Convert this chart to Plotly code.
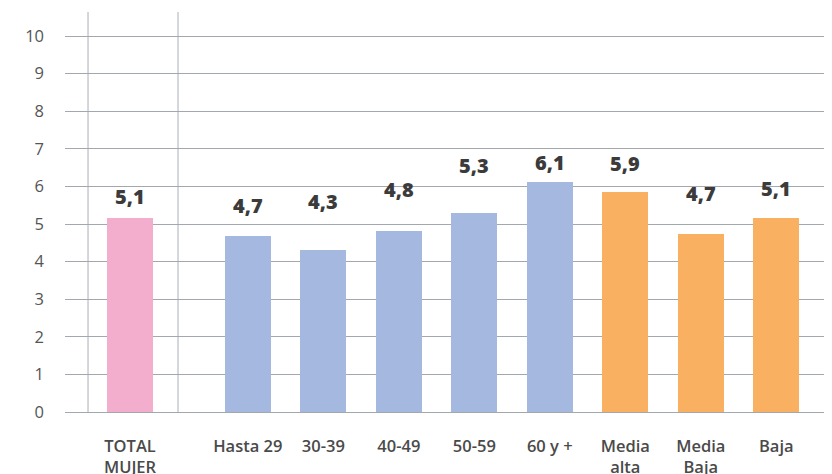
import plotly.graph_objects as go

categories = ["TOTAL<br>MUJER", "Hasta 29", "30-39", "40-49", "50-59", "60 y +", "Media<br>alta", "Media<br>Baja", "Baja"]
values = [5.16, 4.68, 4.31, 4.81, 5.29, 6.12, 5.86, 4.73, 5.16]
labels = ["5,1", "4,7", "4,3", "4,8", "5,3", "6,1", "5,9", "4,7", "5,1"]
groups = ["total", "edad", "edad", "edad", "edad", "edad", "nse", "nse", "nse"]

group_colors = {"total": "#f4aecd", "edad": "#a5b8e0", "nse": "#f9b061"}
label_lift = [22, 31, 48, 42, 48, 19, 28, 41, 30]  # px above bar top (style)

# x layout: total bar, then a gap, then the remaining bars
GAP = 0.56
xpos = [0] + [i + GAP for i in range(1, len(categories))]

FONT = "Open Sans, Lato, sans-serif"

fig = go.Figure()
fig.add_trace(go.Bar(
    x=xpos, y=values,
    marker=dict(color=[group_colors[g] for g in groups], line=dict(width=0)),
    width=0.61,
    hoverinfo="skip",
))

for x, v, t, lift in zip(xpos, values, labels, label_lift):
    fig.add_annotation(x=x, y=v, text=t, showarrow=False,
                       yanchor="middle", yshift=lift,
                       font=dict(family=FONT, size=20, color="#3b3b3b", weight=800))

# vertical separators
for sx in [-0.556, 0.636]:
    fig.add_shape(type="line", xref="x", yref="y", x0=sx, x1=sx, y0=0, y1=10.64,
                  line=dict(color="#c6cacf", width=1.5), layer="below")

fig.update_layout(
    width=832, height=474,
    margin=dict(l=57, r=8, t=4, b=70),
    plot_bgcolor="white", paper_bgcolor="white",
    showlegend=False,
    bargap=0,
    xaxis=dict(range=[-0.861, 9.298], tickmode="array", tickvals=xpos, ticktext=categories,
               showgrid=False, zeroline=False, showline=False, ticks="",
               tickfont=dict(family=FONT, size=16.5, color="#4a4a4a", weight=600),
               ticklabelstandoff=22),
    yaxis=dict(range=[0, 10.64], tickmode="array", tickvals=list(range(0, 11)),
               showgrid=True, gridcolor="#a3a8ae", gridwidth=1.2,
               zeroline=True, zerolinecolor="#a3a8ae", zerolinewidth=1.2,
               showline=False, ticks="",
               tickfont=dict(family=FONT, size=16.5, color="#555555", weight=400),
               ticklabelstandoff=20),
)

fig.write_html("out.html")
